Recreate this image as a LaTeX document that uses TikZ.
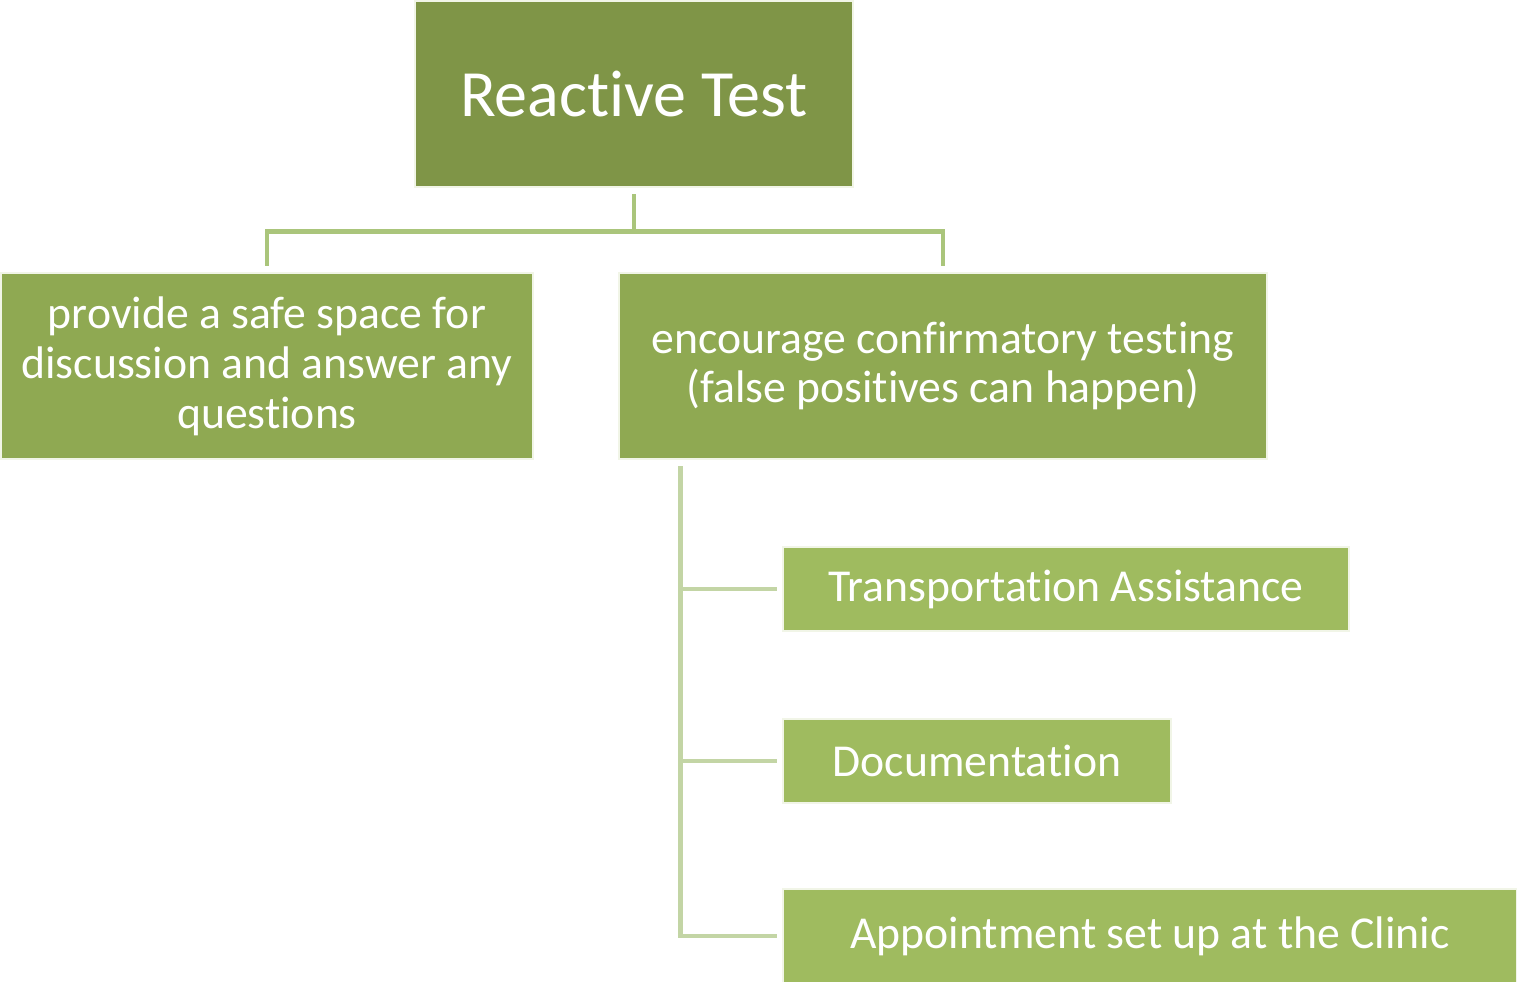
\documentclass[tikz,border=0pt]{standalone}
\usepackage{fontspec}
\setmainfont{Carlito}[Ligatures=NoCommon]
\usetikzlibrary{calc,positioning}
\definecolor{topgreen}{RGB}{127,149,71}
\definecolor{midgreen}{RGB}{143,169,82}
\definecolor{lowgreen}{RGB}{159,187,95}
\definecolor{linkgreen}{RGB}{170,197,123}
\definecolor{sublinkgreen}{RGB}{195,213,165}
\tikzset{
	box/.style={draw=white!85!lowgreen, line width=0.6pt, text=white, align=center, inner sep=0pt, font=\fontsize{13}{14.2}\selectfont},
	link/.style={draw=linkgreen, line width=1.4pt},
	sublink/.style={draw=sublinkgreen, line width=1.4pt}
}
\begin{document}
\begin{tikzpicture}
	\useasboundingbox (0,0) rectangle (15.17,-9.82);
	\node[box, fill=topgreen, minimum width=4.38cm, minimum height=1.86cm, font=\fontsize{18.8}{22}\selectfont] (test) at (6.34,-0.94) {Reactive Test};
	\node[box, fill=midgreen, minimum width=5.32cm, minimum height=1.86cm] (space) at (2.67,-3.66) {provide a safe space for\\discussion and answer any\\questions};
	\node[box, fill=midgreen, minimum width=6.48cm, minimum height=1.86cm] (confirm) at (9.43,-3.66) {encourage confirmatory testing\\(false positives can happen)};
	\node[box, fill=lowgreen, minimum width=5.66cm, minimum height=0.84cm] (transport) at (10.66,-5.89) {Transportation Assistance};
	\node[box, fill=lowgreen, minimum width=3.88cm, minimum height=0.84cm] (docs) at (9.77,-7.61) {Documentation};
	\node[box, fill=lowgreen, minimum width=7.34cm, minimum height=0.94cm] (clinic) at (11.50,-9.36) {Appointment set up at the Clinic};
	% tree under the top box
	\coordinate (hub) at ($(test.south)+(0,-0.43)$);
	\draw[link, shorten <=0.06cm] (test.south) -- (hub);
	\draw[link, shorten <=0.06cm, shorten >=0.06cm] (space.north) |- (hub) -| (confirm.north);
	% list under the right box
	\coordinate (spine) at ($(confirm.south west)+(0.63,-0.06)$);
	\draw[sublink, shorten >=0.05cm] (spine) |- (transport.west);
	\draw[sublink, shorten >=0.05cm] (spine) |- (docs.west);
	\draw[sublink, shorten >=0.05cm] (spine) |- (clinic.west);
\end{tikzpicture}
\end{document}
